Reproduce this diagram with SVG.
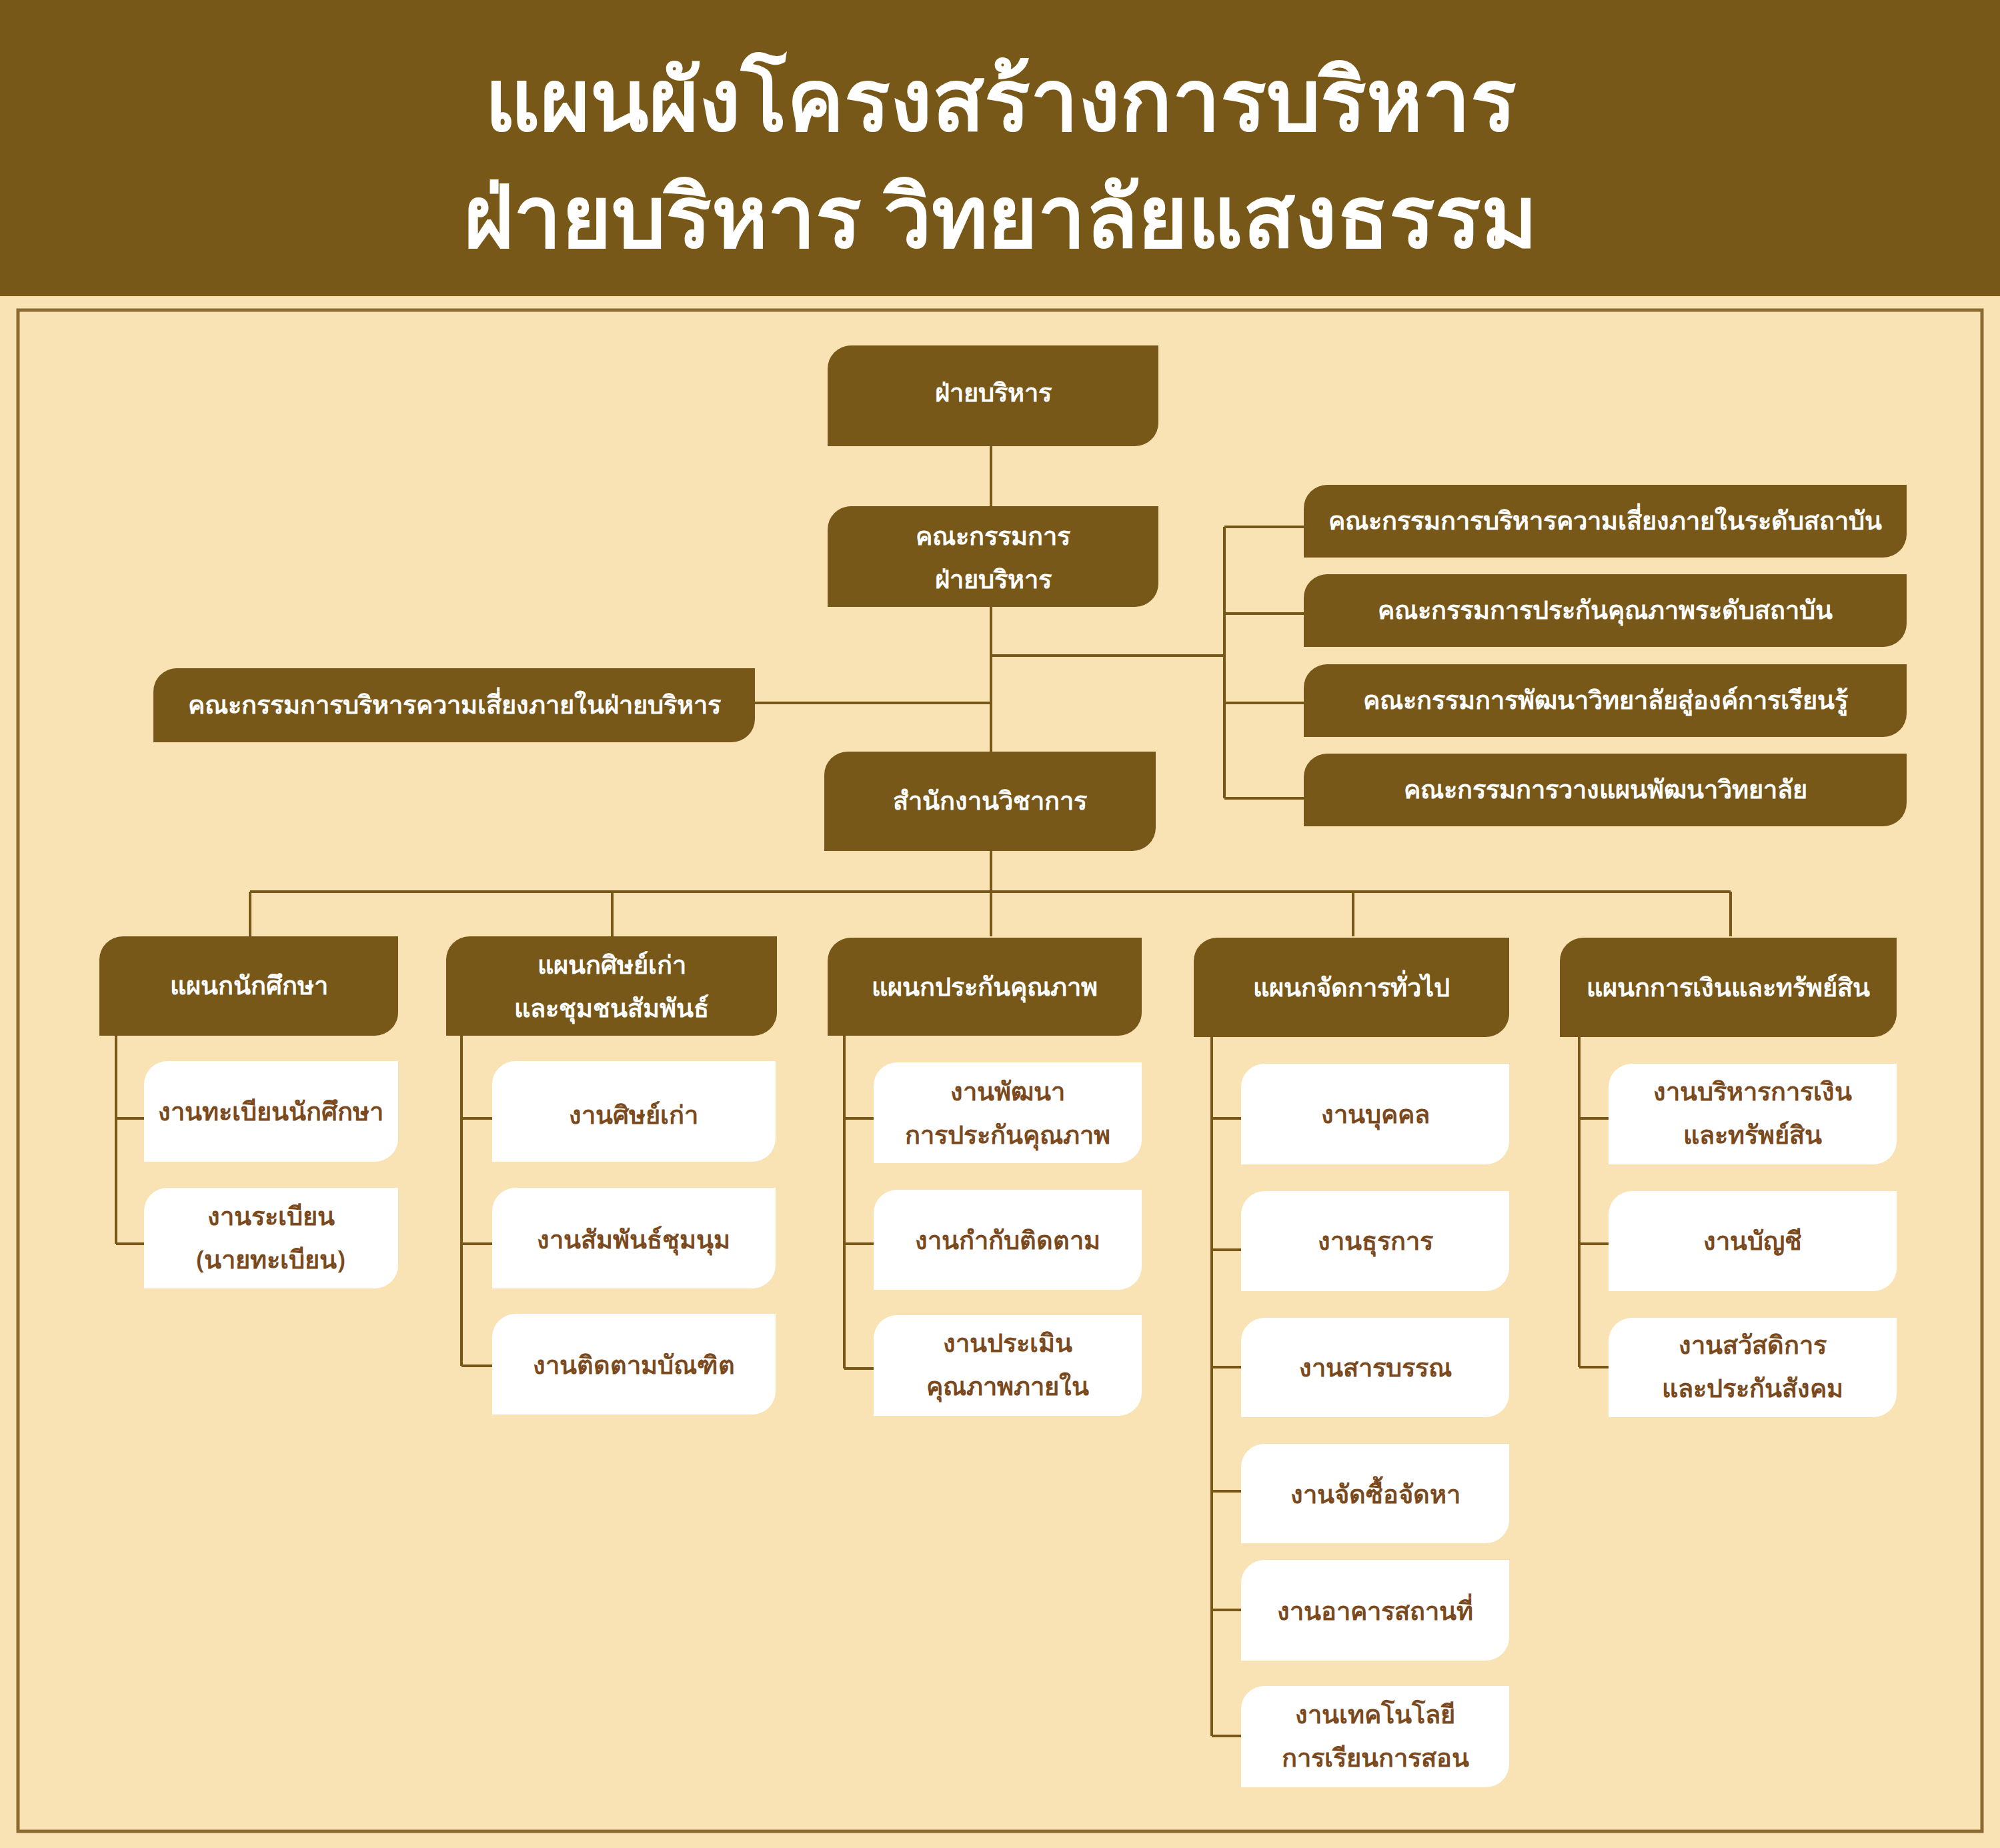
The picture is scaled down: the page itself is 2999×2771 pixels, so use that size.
<svg xmlns="http://www.w3.org/2000/svg" width="2999" height="2771" viewBox="0 0 2999 2771">
<style>
.d{fill:#775819}
.w{fill:#ffffff}
.c{stroke:#775819;stroke-width:4;fill:none}
text{font-family:"Noto Sans","Liberation Sans",sans-serif;font-size:38px;text-anchor:middle;font-weight:600}
.tw{fill:#ffffff}
.tb{fill:#7a4a1e}
.title{font-size:128px;font-weight:700;fill:#ffffff}
</style>
<rect width="2999" height="2771" fill="#f9e3b5"/>
<rect x="0" y="0" width="2999" height="444" fill="#775819"/>
<rect x="27" y="465" width="2945" height="2281" fill="none" stroke="#8a6a30" stroke-width="5"/>
<text class="title" x="1500" y="195">แผนผังโครงสร้างการบริหาร</text>
<text class="title" x="1500" y="370">ฝ่ายบริหาร  วิทยาลัยแสงธรรม</text>
<g id="connectors" class="c">
<path d="M1486 669V1127M1132 1054H1486M1486 983H1836M1836 790V1197M1836 790H1955M1836 920H1955M1836 1054H1955M1836 1197H1955"/>
<path d="M1486 1276V1337M375 1337H2595M375 1337V1404M918 1337V1404M1486 1337V1404M2029 1337V1404M2595 1337V1404"/>
<path d="M174 1553V1865M174 1677H216M174 1865H216"/>
<path d="M692 1553V2048M692 1677H738M692 1865H738M692 2048H738"/>
<path d="M1266 1553V2052M1266 1677H1310M1266 1865H1310M1266 2052H1310"/>
<path d="M1817 1555V2603M1817 1677H1861M1817 1874H1861M1817 2050H1861M1817 2236H1861M1817 2414H1861M1817 2603H1861"/>
<path d="M2368 1555V2050M2368 1677H2412M2368 1865H2412M2368 2050H2412"/>
</g>
<g id="n1"><path class="d" d="M1241 553A35 35 0 0 1 1276 518H1737V634A35 35 0 0 1 1702 669H1241Z"/><text class="tw" x="1489" y="602">ฝ่ายบริหาร</text></g>
<g id="n2"><path class="d" d="M1241 794A35 35 0 0 1 1276 759H1737V875A35 35 0 0 1 1702 910H1241Z"/><text class="tw" x="1489" y="817">คณะกรรมการ</text><text class="tw" x="1489" y="882">ฝ่ายบริหาร</text></g>
<g id="n3"><path class="d" d="M230 1037A35 35 0 0 1 265 1002H1132V1078A35 35 0 0 1 1097 1113H230Z"/><text class="tw" x="681" y="1070">คณะกรรมการบริหารความเสี่ยงภายในฝ่ายบริหาร</text></g>
<g id="n4"><path class="d" d="M1236 1162A35 35 0 0 1 1271 1127H1733V1241A35 35 0 0 1 1698 1276H1236Z"/><text class="tw" x="1484" y="1214">สำนักงานวิชาการ</text></g>
<g id="r1"><path class="d" d="M1955 762A35 35 0 0 1 1990 727H2859V801A35 35 0 0 1 2824 836H1955Z"/><text class="tw" x="2407" y="794">คณะกรรมการบริหารความเสี่ยงภายในระดับสถาบัน</text></g>
<g id="r2"><path class="d" d="M1955 896A35 35 0 0 1 1990 861H2859V935A35 35 0 0 1 2824 970H1955Z"/><text class="tw" x="2407" y="928">คณะกรรมการประกันคุณภาพระดับสถาบัน</text></g>
<g id="r3"><path class="d" d="M1955 1031A35 35 0 0 1 1990 996H2859V1070A35 35 0 0 1 2824 1105H1955Z"/><text class="tw" x="2407" y="1063">คณะกรรมการพัฒนาวิทยาลัยสู่องค์การเรียนรู้</text></g>
<g id="r4"><path class="d" d="M1955 1165A35 35 0 0 1 1990 1130H2859V1204A35 35 0 0 1 2824 1239H1955Z"/><text class="tw" x="2407" y="1197">คณะกรรมการวางแผนพัฒนาวิทยาลัย</text></g>
<g id="d1"><path class="d" d="M149 1439A35 35 0 0 1 184 1404H597V1518A35 35 0 0 1 562 1553H149Z"/><text class="tw" x="373" y="1491">แผนกนักศึกษา</text></g>
<g id="d2"><path class="d" d="M669 1439A35 35 0 0 1 704 1404H1165V1518A35 35 0 0 1 1130 1553H669Z"/><text class="tw" x="917" y="1460">แผนกศิษย์เก่า</text><text class="tw" x="917" y="1525">และชุมชนสัมพันธ์</text></g>
<g id="d3"><path class="d" d="M1241 1441A35 35 0 0 1 1276 1406H1712V1518A35 35 0 0 1 1677 1553H1241Z"/><text class="tw" x="1476" y="1493">แผนกประกันคุณภาพ</text></g>
<g id="d4"><path class="d" d="M1790 1441A35 35 0 0 1 1825 1406H2263V1520A35 35 0 0 1 2228 1555H1790Z"/><text class="tw" x="2026" y="1494">แผนกจัดการทั่วไป</text></g>
<g id="d5"><path class="d" d="M2339 1441A35 35 0 0 1 2374 1406H2844V1520A35 35 0 0 1 2809 1555H2339Z"/><text class="tw" x="2591" y="1494">แผนกการเงินและทรัพย์สิน</text></g>
<g id="c11"><path class="w" d="M216 1626A35 35 0 0 1 251 1591H597V1707A35 35 0 0 1 562 1742H216Z"/><text class="tb" x="406" y="1680">งานทะเบียนนักศึกษา</text></g>
<g id="c12"><path class="w" d="M216 1816A35 35 0 0 1 251 1781H597V1897A35 35 0 0 1 562 1932H216Z"/><text class="tb" x="406" y="1837">งานระเบียน</text><text class="tb" x="406" y="1902">(นายทะเบียน)</text></g>
<g id="c21"><path class="w" d="M738 1626A35 35 0 0 1 773 1591H1163V1707A35 35 0 0 1 1128 1742H738Z"/><text class="tb" x="950" y="1685">งานศิษย์เก่า</text></g>
<g id="c22"><path class="w" d="M738 1816A35 35 0 0 1 773 1781H1163V1897A35 35 0 0 1 1128 1932H738Z"/><text class="tb" x="950" y="1872">งานสัมพันธ์ชุมนุม</text></g>
<g id="c23"><path class="w" d="M738 2005A35 35 0 0 1 773 1970H1163V2086A35 35 0 0 1 1128 2121H738Z"/><text class="tb" x="950" y="2060">งานติดตามบัณฑิต</text></g>
<g id="c31"><path class="w" d="M1310 1628A35 35 0 0 1 1345 1593H1712V1709A35 35 0 0 1 1677 1744H1310Z"/><text class="tb" x="1511" y="1650">งานพัฒนา</text><text class="tb" x="1511" y="1715">การประกันคุณภาพ</text></g>
<g id="c32"><path class="w" d="M1310 1819A35 35 0 0 1 1345 1784H1712V1899A35 35 0 0 1 1677 1934H1310Z"/><text class="tb" x="1511" y="1873">งานกำกับติดตาม</text></g>
<g id="c33"><path class="w" d="M1310 2007A35 35 0 0 1 1345 1972H1712V2088A35 35 0 0 1 1677 2123H1310Z"/><text class="tb" x="1511" y="2027">งานประเมิน</text><text class="tb" x="1511" y="2092">คุณภาพภายใน</text></g>
<g id="c41"><path class="w" d="M1861 1630A35 35 0 0 1 1896 1595H2263V1711A35 35 0 0 1 2228 1746H1861Z"/><text class="tb" x="2062" y="1684">งานบุคคล</text></g>
<g id="c42"><path class="w" d="M1861 1821A35 35 0 0 1 1896 1786H2263V1901A35 35 0 0 1 2228 1936H1861Z"/><text class="tb" x="2062" y="1874">งานธุรการ</text></g>
<g id="c43"><path class="w" d="M1861 2011A35 35 0 0 1 1896 1976H2263V2090A35 35 0 0 1 2228 2125H1861Z"/><text class="tb" x="2062" y="2064">งานสารบรรณ</text></g>
<g id="c44"><path class="w" d="M1861 2200A35 35 0 0 1 1896 2165H2263V2279A35 35 0 0 1 2228 2314H1861Z"/><text class="tb" x="2062" y="2254">งานจัดซื้อจัดหา</text></g>
<g id="c45"><path class="w" d="M1861 2374A35 35 0 0 1 1896 2339H2263V2455A35 35 0 0 1 2228 2490H1861Z"/><text class="tb" x="2062" y="2429">งานอาคารสถานที่</text></g>
<g id="c46"><path class="w" d="M1861 2563A35 35 0 0 1 1896 2528H2263V2645A35 35 0 0 1 2228 2680H1861Z"/><text class="tb" x="2062" y="2584">งานเทคโนโลยี</text><text class="tb" x="2062" y="2649">การเรียนการสอน</text></g>
<g id="c51"><path class="w" d="M2412 1630A35 35 0 0 1 2447 1595H2844V1711A35 35 0 0 1 2809 1746H2412Z"/><text class="tb" x="2628" y="1650">งานบริหารการเงิน</text><text class="tb" x="2628" y="1715">และทรัพย์สิน</text></g>
<g id="c52"><path class="w" d="M2412 1821A35 35 0 0 1 2447 1786H2844V1901A35 35 0 0 1 2809 1936H2412Z"/><text class="tb" x="2628" y="1874">งานบัญชี</text></g>
<g id="c53"><path class="w" d="M2412 2011A35 35 0 0 1 2447 1976H2844V2090A35 35 0 0 1 2809 2125H2412Z"/><text class="tb" x="2628" y="2030">งานสวัสดิการ</text><text class="tb" x="2628" y="2095">และประกันสังคม</text></g>
</svg>
